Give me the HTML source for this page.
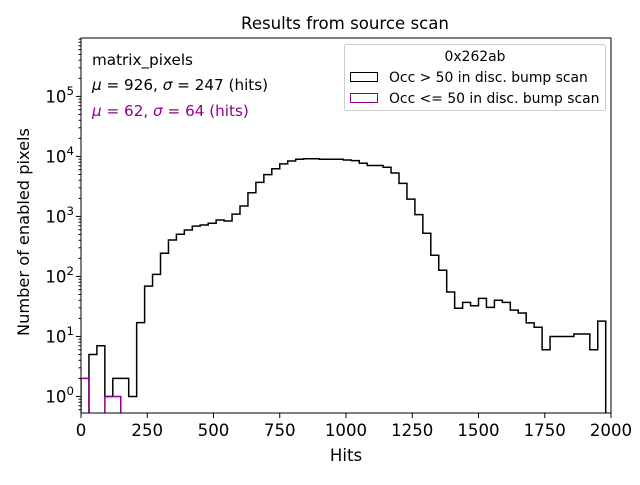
<!DOCTYPE html>
<html><head><meta charset="utf-8"><style>
body{margin:0;background:#fff}
svg text{font-family:"DejaVu Sans","Liberation Sans",sans-serif}
</style></head><body>
<svg id="chart" width="640" height="480" viewBox="0 0 640 480" xmlns="http://www.w3.org/2000/svg">
<rect width="640" height="480" fill="#fff"/>
<text x="345" y="29" font-size="16.6" text-anchor="middle">Results from source scan</text>
<g id="plot"></g>
<text x="346" y="461" font-size="16.6" text-anchor="middle">Hits</text>
<text transform="translate(29,232) rotate(-90)" font-size="16.2" text-anchor="middle">Number of enabled pixels</text>
<text x="92" y="65" font-size="15.2">matrix_pixels</text>
<text x="92" y="90" font-size="15.2"><tspan font-style="italic">μ</tspan> = 926, <tspan font-style="italic">σ</tspan> = 247 (hits)</text>
<text x="92" y="116" font-size="15.2" fill="#8e008e"><tspan font-style="italic">μ</tspan> = 62, <tspan font-style="italic">σ</tspan> = 64 (hits)</text>
<g>
<rect x="344.5" y="44.5" width="261" height="66" rx="2" fill="#fff" stroke="#ccc"/>
<text x="475" y="61" font-size="13.9" text-anchor="middle">0x262ab</text>
<rect x="350.5" y="72.5" width="27" height="9" fill="none" stroke="#000" stroke-width="1"/>
<text x="389" y="82" font-size="13.9">Occ &gt; 50 in disc. bump scan</text>
<rect x="350.5" y="93.5" width="27" height="9" fill="none" stroke="#8e008e" stroke-width="1"/>
<text x="389" y="103" font-size="13.9">Occ &lt;= 50 in disc. bump scan</text>
</g>
</svg>
<script>
const binWidth = 30;
const highCounts = [0,5,7,1,2,2,1,17,69,108,243,405,505,595,690,720,770,870,840,1090,1490,2480,3700,4980,6240,7500,8400,8950,9150,9150,8950,8950,8950,8700,8500,7700,7050,7050,6600,5300,3550,1940,1070,525,225,127,55,29.5,37,32.5,43,30.5,40,37,27.5,24.6,16.8,14.2,6,10,10,10,11,11,6,18];
const lowCounts = [2,0,0,1,1];
const xTicks = [0,250,500,750,1000,1250,1500,1750,2000];
const yDecades = [0,1,2,3,4,5];

const L=81,R=611,T=38,B=413;
const yMin=0.53, yMax=9.4e5;
const NS='http://www.w3.org/2000/svg';
const X=v=>L+(v/2000)*(R-L);
const Y=v=>{if(v<=0)return B+5;const p=B-(Math.log10(v)-Math.log10(yMin))/(Math.log10(yMax)-Math.log10(yMin))*(B-T);return Math.max(T,p);};
const g=document.getElementById('plot');
function mk(t,a){const e=document.createElementNS(NS,t);for(const k in a)e.setAttribute(k,a[k]);g.appendChild(e);return e;}

const clip=mk('clipPath',{id:'cp'});
const cr=document.createElementNS(NS,'rect');cr.setAttribute('x',L);cr.setAttribute('y',T);cr.setAttribute('width',R-L);cr.setAttribute('height',B-T);clip.appendChild(cr);

function stepPath(counts){
  let d='M'+X(0)+','+(B+5);
  counts.forEach((c,i)=>{const y=Y(c);d+=' L'+X(i*binWidth)+','+y+' L'+X((i+1)*binWidth)+','+y;});
  d+=' L'+X(counts.length*binWidth)+','+(B+5);
  return d;
}
const hp=mk('path',{d:stepPath(highCounts),fill:'none',stroke:'#000','stroke-width':1.5,'clip-path':'url(#cp)'});


const lp=mk('path',{d:stepPath(lowCounts),fill:'none',stroke:'#8e008e','stroke-width':1.5,'clip-path':'url(#cp)'});



const ax=mk('rect',{x:L,y:T,width:R-L,height:B-T,fill:'none',stroke:'#000','stroke-width':1});



xTicks.forEach(t=>{
  mk('line',{x1:X(t),x2:X(t),y1:B,y2:B+5,stroke:'#000'});
  const tx=mk('text',{x:X(t),y:B+23,'font-size':16.6,'text-anchor':'middle'});
  tx.textContent=t;
  
  
});
for(let d=-1;d<=5;d++){
  for(let m=1;m<10;m++){
    const v=m*Math.pow(10,d);
    if(v<yMin||v>yMax)continue;
    const y=Y(v);
    mk('line',{x1:L-(m===1?5:2.5),x2:L,y1:y,y2:y,stroke:'#000'});
  }
}
yDecades.forEach(d=>{
  const y=Y(Math.pow(10,d));
  const tx=mk('text',{x:L-7,y:y+6,'font-size':16.6,'text-anchor':'end'});
  tx.innerHTML='10<tspan dy="-7.5" font-size="11.8">'+d+'</tspan>';
  
  
});
</script>
</body></html>
